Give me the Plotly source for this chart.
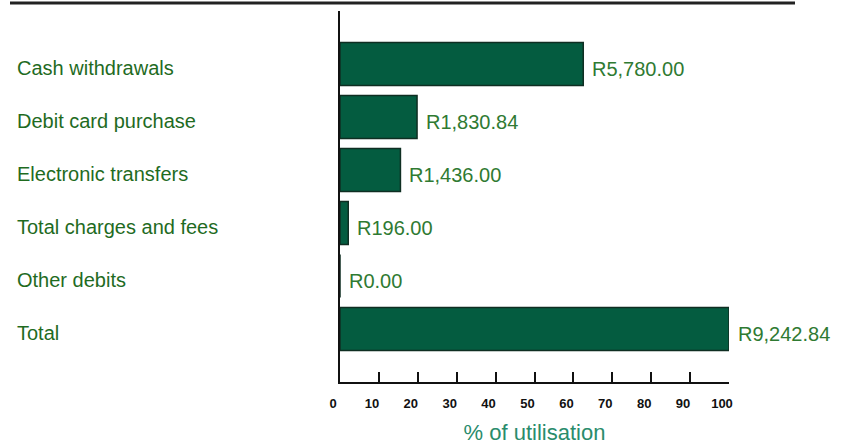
import plotly.graph_objects as go

# Debit categories and their rand amounts
categories = [
    "Cash withdrawals",
    "Debit card purchase",
    "Electronic transfers",
    "Total charges and fees",
    "Other debits",
    "Total",
]
amounts = [5780.00, 1830.84, 1436.00, 196.00, 0.00, 9242.84]
value_labels = ["R5,780.00", "R1,830.84", "R1,436.00", "R196.00", "R0.00", "R9,242.84"]
x_ticks = [0, 10, 20, 30, 40, 50, 60, 70, 80, 90, 100]

total = amounts[-1]
utilisation = [a / total * 100 for a in amounts]

FONT = "Liberation Sans"
BAR_FILL = "#045c40"
BAR_LINE = "#0f2e22"
LABEL_GREEN = "#1f6b1f"
VALUE_GREEN = "#2f7a32"
TITLE_TEAL = "#2a8c6c"

W, H = 846, 445
L, R, T, B = 340, 117, 11, 63
plot_w = W - L - R
plot_h = H - T - B

fig = go.Figure(
    go.Bar(
        x=utilisation,
        y=categories,
        orientation="h",
        width=0.81,
        marker=dict(color=BAR_FILL, line=dict(color=BAR_LINE, width=1.5)),
        hoverinfo="skip",
    )
)

# Category names, left-aligned at the page edge
for cat in categories:
    fig.add_annotation(
        x=(15 - L) / plot_w, xref="paper", y=cat, yref="y",
        text=cat, showarrow=False, xanchor="left", yanchor="middle", yshift=-4,
        font=dict(family=FONT, size=20, color=LABEL_GREEN),
    )

# Rand amounts at the end of each bar
for cat, pct, lab in zip(categories, utilisation, value_labels):
    fig.add_annotation(
        x=pct, y=cat, text=lab, showarrow=False,
        xanchor="left", yanchor="middle", xshift=7, yshift=-5,
        font=dict(family=FONT, size=20, color=VALUE_GREEN),
    )

# Rule across the top of the panel
rule_y = (H - B - 3) / plot_h
fig.add_shape(
    type="line", xref="paper", yref="paper",
    x0=(10 - L) / plot_w, x1=(795 - L) / plot_w,
    y0=rule_y, y1=rule_y,
    line=dict(color="#222222", width=3),
)

fig.update_layout(
    width=W, height=H,
    margin=dict(l=L, r=R, t=T, b=B, pad=0, autoexpand=False),
    paper_bgcolor="white", plot_bgcolor="white",
    showlegend=False,
    font=dict(family=FONT),
    xaxis=dict(
        range=[0, 100], tickvals=x_ticks, ticktext=[str(v) for v in x_ticks],
        ticks="inside", ticklen=10, tickwidth=2, tickcolor="#111111",
        showline=True, linecolor="#111111", linewidth=2,
        showgrid=False, zeroline=False, automargin=False,
        tickfont=dict(family=FONT, size=13, color="#111111", weight="bold"),
        ticklabelstandoff=8, ticklabelshift=-7,
        title=dict(text="% of utilisation", standoff=22,
                   font=dict(family=FONT, size=22, color=TITLE_TEAL)),
        fixedrange=True,
    ),
    yaxis=dict(
        categoryorder="array", categoryarray=categories,
        range=[6.0, -1.0], automargin=False,
        showticklabels=False, ticks="",
        showline=True, linecolor="#111111", linewidth=2,
        showgrid=False, zeroline=False, fixedrange=True,
    ),
)

fig.write_html("out.html")
